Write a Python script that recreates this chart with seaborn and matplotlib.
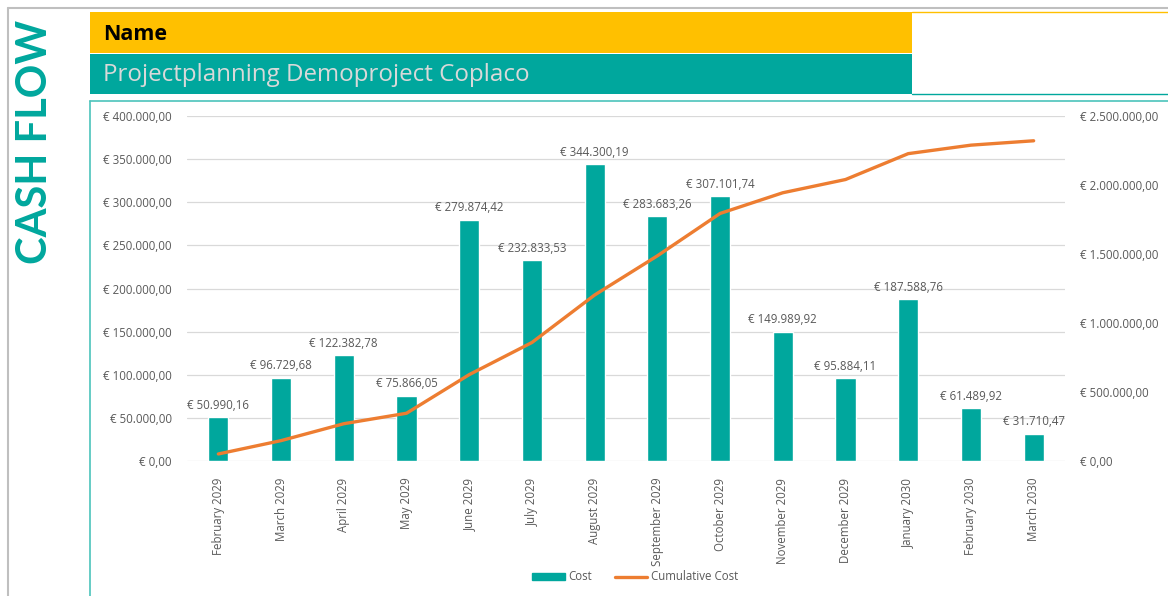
import numpy as np
import pandas as pd
import matplotlib
matplotlib.use('Agg')
import matplotlib.pyplot as plt
import seaborn as sns
from matplotlib.patches import Rectangle
from matplotlib.lines import Line2D

# ---------- dados ----------
meses = ['February 2029', 'March 2029', 'April 2029', 'May 2029', 'June 2029',
         'July 2029', 'August 2029', 'September 2029', 'October 2029',
         'November 2029', 'December 2029', 'January 2030', 'February 2030',
         'March 2030']
custo = [50990.16, 96729.68, 122382.78, 75866.05, 279874.42, 232833.53,
         344300.19, 283683.26, 307101.74, 149989.92, 95884.11, 187588.76,
         61489.92, 31710.47]
custo_acum = [50990, 147720, 270103, 345969, 625843, 858677, 1202977,
              1486660, 1793762, 1943752, 2039636, 2227225, 2288715, 2320425]
ticks_esq = [0, 50000, 100000, 150000, 200000, 250000, 300000, 350000, 400000]
ticks_dir = [0, 500000, 1000000, 1500000, 2000000, 2500000]

titulo_nome = 'Name'
titulo_projeto = 'Projectplanning Demoproject Coplaco'
titulo_lateral = 'CASH FLOW'

TEAL = '#00A79D'
LARANJA = '#ED7D31'
AMARELO = '#FFC000'
CINZA = '#595959'
FS = 8.3


def euro(v):
    s = f'{v:,.2f}'.replace(',', 'X').replace('.', ',').replace('X', '.')
    return f'€ {s}'


sns.set_theme(style='white')
plt.rcParams['font.family'] = ['Open Sans', 'DejaVu Sans']

fig = plt.figure(figsize=(11.68, 5.96), dpi=100)
W, H = 1168, 596


def fx(px):
    return px / W


def fy(py):
    return 1 - py / H


# ---------- moldura / cabeçalho ----------
fig.add_artist(Line2D([fx(8), fx(8)], [fy(8), 0], color='#BFBFBF', lw=1.5))
fig.add_artist(Line2D([fx(8), 1], [fy(8), fy(8)], color='#BFBFBF', lw=1.5))
fig.add_artist(Rectangle((fx(90), fy(53)), fx(822), 41 / H, color=AMARELO, lw=0))
fig.add_artist(Rectangle((fx(90), fy(94)), fx(822), 40 / H, color=TEAL, lw=0))
fig.add_artist(Line2D([fx(912), 1], [fy(12), fy(12)], color=AMARELO, lw=1))
fig.add_artist(Line2D([fx(912), 1], [fy(94), fy(94)], color=TEAL, lw=1))
fig.add_artist(Line2D([fx(90), fx(90)], [fy(101), 0], color='#4CC3BB', lw=1.2))
fig.add_artist(Line2D([fx(90), 1], [fy(101), fy(101)], color='#4CC3BB', lw=1.2))
fig.text(fx(103), fy(34), titulo_nome, fontsize=15.5, fontweight='bold',
         color='black', va='center', ha='left')
fig.text(fx(103), fy(75), titulo_projeto, fontsize=17.4, color='#D9D9D9',
         va='center', ha='left')
fig.text(fx(35), fy(142), titulo_lateral, fontsize=30, fontweight='bold',
         color=TEAL, rotation=90, va='center', ha='center',
         family=['Lato', 'DejaVu Sans'])

# ---------- gráfico ----------
ax = fig.add_axes([fx(187), fy(461), fx(1065 - 187), (461 - 116) / H])
df = pd.DataFrame({'mes': meses, 'custo': custo, 'acum': custo_acum})

sns.barplot(data=df, x='mes', y='custo', color=TEAL, width=0.32,
            saturation=1, ax=ax)
ax.set_ylim(0, 400000)
ax.set_yticks(ticks_esq)
ax.set_yticklabels([euro(t) for t in ticks_esq], fontsize=FS, color=CINZA)
ax.set_xlim(-0.5, len(meses) - 0.5)
ax.tick_params(axis='x', rotation=90, labelsize=FS, labelcolor=CINZA, pad=6)
ax.tick_params(axis='y', pad=11, length=0)
ax.grid(True, axis='y', color='#D9D9D9', lw=0.9)
ax.set_axisbelow(True)
ax.set_xlabel('')
ax.set_ylabel('')
for s in ax.spines.values():
    s.set_visible(False)

for i, v in enumerate(custo):
    ax.text(i, v + 6000, euro(v), ha='center', va='bottom', fontsize=FS,
            color=CINZA)

ax2 = ax.twinx()
sns.lineplot(x=np.arange(len(meses)), y=custo_acum, color=LARANJA, lw=2.4,
             ax=ax2, legend=False)
ax2.set_ylim(0, 2500000)
ax2.set_yticks(ticks_dir)
ax2.set_yticklabels([euro(t) for t in ticks_dir], fontsize=FS, color=CINZA)
ax2.tick_params(axis='y', pad=11, length=0)
ax2.grid(False)
ax2.set_ylabel('')
for s in ax2.spines.values():
    s.set_visible(False)

handles = [Rectangle((0, 0), 1, 1, color=TEAL),
           Line2D([0], [0], color=LARANJA, lw=2.4)]
fig.legend(handles, ['Cost', 'Cumulative Cost'], loc='center',
           bbox_to_anchor=(fx(635), fy(577)), ncol=2, frameon=False,
           fontsize=FS, labelcolor=CINZA, handlelength=2.8,
           handleheight=0.6, columnspacing=2.0, handletextpad=0.3)

fig.savefig('out.png', dpi=100)
